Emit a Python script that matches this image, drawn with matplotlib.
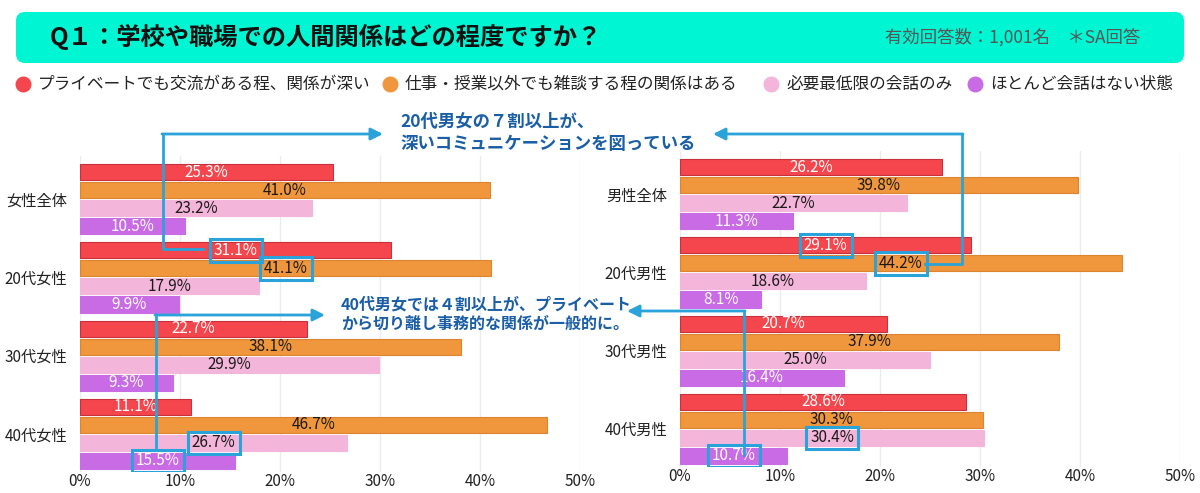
import matplotlib
matplotlib.use('Agg')
import matplotlib.pyplot as plt
from matplotlib.patches import Rectangle, FancyBboxPatch
from matplotlib.ticker import FuncFormatter

plt.rcParams['font.family'] = ['Noto Sans CJK JP', 'DejaVu Sans']

# ---- data ----
series_names = ['プライベートでも交流がある程、関係が深い',
                '仕事・授業以外でも雑談する程の関係はある',
                '必要最低限の会話のみ',
                'ほとんど会話はない状態']
series_colors = ['#f4464c', '#f0963d', '#f4b5da', '#c96be4']
series_edges = ['#c8303c', '#dc8430', '#f4b5da', '#c96be4']
label_colors = ['white', '#1a1a1a', '#1a1a1a', 'white']

groups_f = ['女性全体', '20代女性', '30代女性', '40代女性']
f_deep = [25.3, 31.1, 22.7, 11.1]
f_chat = [41.0, 41.1, 38.1, 46.7]
f_min = [23.2, 17.9, 29.9, 26.7]
f_none = [10.5, 9.9, 9.3, 15.5]

groups_m = ['男性全体', '20代男性', '30代男性', '40代男性']
m_deep = [26.2, 29.1, 20.7, 28.6]
m_chat = [39.8, 44.2, 37.9, 30.3]
m_min = [22.7, 18.6, 25.0, 30.4]
m_none = [11.3, 8.1, 16.4, 10.7]

# (series, group) pairs outlined in blue
highlights = [(0, 1), (1, 1), (2, 3), (3, 3)]

title = 'Q１：学校や職場での人間関係はどの程度ですか？'
subtitle = '有効回答数：1,001名　＊SA回答'
note1 = '20代男女の７割以上が、\n深いコミュニケーションを図っている'
note2 = '40代男女では４割以上が、プライベート\nから切り離し事務的な関係が一般的に。'

W, H = 1200, 493
BLUE = '#2aa2da'
NAVY = '#1a5ea6'
GROUP_STEP = 78 / 18.0
BAR_H = 16 / 18.0


def px_axes(fig, x0, x1, y0, y1):
    # axes placed by pixel box (top-left origin)
    return fig.add_axes([x0 / W, 1 - y1 / H, (x1 - x0) / W, (y1 - y0) / H])


def draw_panel(ax, groups, data):
    for k, vals in enumerate(data):
        ys = [g * GROUP_STEP + k for g in range(len(groups))]
        ax.barh(ys, vals, height=BAR_H, color=series_colors[k],
                edgecolor=series_edges[k], linewidth=0.8, zorder=2)
        for y, v in zip(ys, vals):
            ax.text(v / 2, y, '%.1f%%' % v, ha='center', va='center',
                    fontsize=11, color=label_colors[k], zorder=4)
    for k, g in highlights:
        v = data[k][g]
        y = g * GROUP_STEP + k
        ax.add_patch(Rectangle((v / 2 - 2.6, y - 0.62), 5.2, 1.24,
                               fill=False, edgecolor=BLUE, linewidth=2.2,
                               zorder=5))
    ax.set_xlim(0, 50)
    ax.set_ylim(16.61, -0.89)
    ax.set_xticks([0, 10, 20, 30, 40, 50])
    ax.xaxis.set_major_formatter(FuncFormatter(lambda v, p: '%d%%' % v))
    ax.set_yticks([g * GROUP_STEP + 1.5 for g in range(len(groups))])
    ax.set_yticklabels(groups)
    ax.tick_params(length=0, labelsize=11, colors='#222222')
    ax.tick_params(axis='x', pad=1)
    ax.tick_params(axis='y', pad=9)
    ax.grid(axis='x', color='#ececec', linewidth=1, zorder=0)
    ax.set_axisbelow(True)
    for s in ax.spines.values():
        s.set_visible(False)
    ax.patch.set_alpha(0)


fig = plt.figure(figsize=(12, 4.93), dpi=100)
fig.patch.set_facecolor('white')

ax_f = px_axes(fig, 80, 580, 156, 472)
draw_panel(ax_f, groups_f, [f_deep, f_chat, f_min, f_none])
ax_m = px_axes(fig, 680, 1180, 151, 467)
draw_panel(ax_m, groups_m, [m_deep, m_chat, m_min, m_none])

# overlay in pixel coordinates for header, legend and connectors
ov = fig.add_axes([0, 0, 1, 1], zorder=10)
ov.set_xlim(0, W)
ov.set_ylim(H, 0)
ov.axis('off')
ov.patch.set_alpha(0)

ov.add_patch(FancyBboxPatch((16, 12), 1168, 51,
                            boxstyle='round,pad=0,rounding_size=9',
                            facecolor='#00f5d3', edgecolor='none', zorder=1))
ov.text(50, 37, title, fontsize=17.5, fontweight='bold', color='#111111',
        ha='left', va='center', zorder=2)
ov.text(1140, 37, subtitle, fontsize=12.5, color='#555555',
        ha='right', va='center', zorder=2)

legend_x = [23, 390, 771, 975]
for x, name, c in zip(legend_x, series_names, series_colors):
    ov.scatter([x], [84], s=110, color=c, zorder=2)
    ov.text(x + 15, 84, name, fontsize=12, color='#222222',
            ha='left', va='center')

# annotation texts
ov.text(400, 133, note1, fontsize=12.5, fontweight='bold', color=NAVY,
        ha='left', va='center', linespacing=1.25)
ov.text(341, 314, note2, fontsize=11.5, fontweight='bold', color=NAVY,
        ha='left', va='center', linespacing=1.25)

# connector lines with arrowheads
arrow = dict(arrowstyle='-|>', color=BLUE, lw=2, mutation_scale=18,
             shrinkA=0, shrinkB=0)
ov.plot([203, 163, 163], [249, 249, 134], color=BLUE, lw=2, zorder=6)
ov.annotate('', xy=(383, 134), xytext=(162, 134), arrowprops=arrow)
ov.plot([925, 962, 962], [264, 264, 134], color=BLUE, lw=2, zorder=6)
ov.annotate('', xy=(713, 134), xytext=(963, 134), arrowprops=arrow)
ov.plot([156, 156], [447, 315], color=BLUE, lw=2, zorder=6)
ov.annotate('', xy=(325, 315), xytext=(155, 315), arrowprops=arrow)
ov.plot([744, 744], [455, 311], color=BLUE, lw=2, zorder=6)
ov.annotate('', xy=(627, 311), xytext=(745, 311), arrowprops=arrow)

fig.savefig('out.png', dpi=100)
